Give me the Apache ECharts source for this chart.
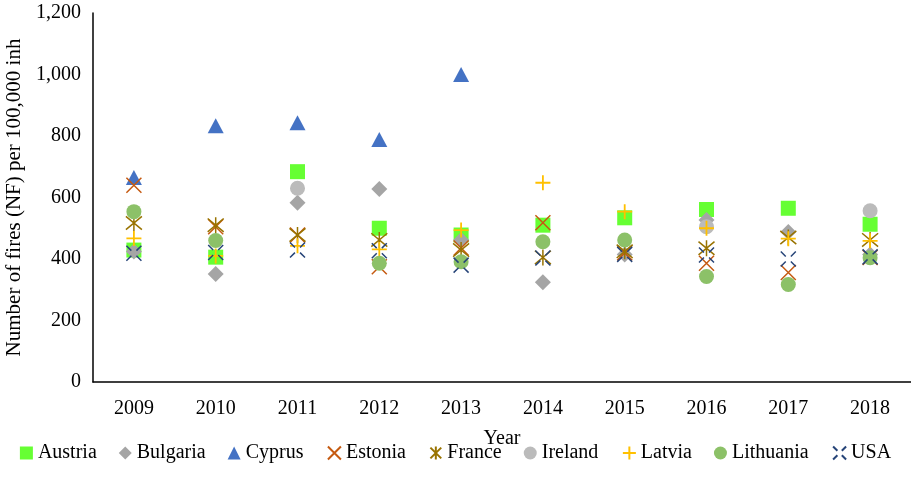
<!DOCTYPE html>
<html>
<head>
<meta charset="utf-8">
<script src="https://cdn.jsdelivr.net/npm/echarts@6/dist/echarts.min.js"></script>
<style>
  html, body { margin: 0; padding: 0; background: #fff; }
  #chart { width: 911px; height: 495px; }
</style>
</head>
<body>
<div id="chart"></div>
<script>
// years on the x axis
const years = ['2009', '2010', '2011', '2012', '2013', '2014', '2015', '2016', '2017', '2018'];
const yTicks = [0, 200, 400, 600, 800, 1000, 1200];

// number of fires per 100,000 inhabitants
const austria   = [429, 406, 684, 500, 478, 510, 534, 561, 565, 513];
const bulgaria  = [424, 351, 583, 628, 462, 324, 415, 527, 488, 415];
const cyprus    = [665, 833, 843, 789, 1000, null, null, null, null, null];
const estonia   = [640, 505, 478, 375, 436, 518, 420, 386, 356, 405];
const france    = [517, 510, 478, 462, 429, 405, 425, 435, 470, 462];
const ireland   = [null, null, 630, null, null, null, null, 505, null, 557];
const latvia    = [467, 410, 443, 431, 494, 648, 554, 500, 466, 459];
const lithuania = [554, 460, null, 386, 391, 456, 462, 343, 317, 404];
const usa       = [419, 421, 429, 427, 380, 403, 415, 413, 400, 407];

const X_PATH = 'path://M0,0L10,10M10,0L0,10';
const STAR_PATH = 'path://M0,0L10,10M10,0L0,10M5,-1L5,11';
const PLUS_PATH = 'path://M5,0L5,10M0,5L10,5';
const GAP_X_PATH = 'path://M0,0L3.3,3.3M10,0L6.7,3.3M0,10L3.3,6.7M10,10L6.7,6.7';

function filled(name, data, symbol, size, color) {
  return {
    name, type: 'scatter', data, symbol, symbolSize: size,
    itemStyle: { color, opacity: 1 },
  };
}

function stroked(name, data, symbol, size, color, width) {
  return {
    name, type: 'scatter', data, symbol, symbolSize: size,
    itemStyle: { color: 'none', borderColor: color, borderWidth: width, opacity: 1 },
  };
}

const chart = echarts.init(document.getElementById('chart'), null, { renderer: 'canvas' });

const font = 'Liberation Serif';

chart.setOption({
  animation: false,
  textStyle: { fontFamily: font, color: '#000' },
  grid: { left: 93, right: 0, top: 13, bottom: 113, outerBoundsMode: 'none', containLabel: false },
  xAxis: {
    type: 'category',
    data: years,
    name: 'Year',
    nameLocation: 'middle',
    nameGap: 47,
    nameTextStyle: { fontSize: 20, color: '#000', fontFamily: font },
    axisLine: { lineStyle: { color: '#000', width: 1.5 } },
    axisTick: { show: false },
    axisLabel: { fontSize: 20, color: '#000', margin: 17, fontFamily: font },
  },
  yAxis: {
    type: 'value',
    min: yTicks[0],
    max: yTicks[yTicks.length - 1],
    interval: 200,
    name: 'Number of fires (NF) per 100,000 inh',
    nameLocation: 'middle',
    nameGap: 67,
    nameTextStyle: { fontSize: 21, color: '#000', fontFamily: font },
    axisLine: { show: true, lineStyle: { color: '#000', width: 1.5 } },
    axisTick: { show: false },
    splitLine: { show: false },
    axisLabel: {
      fontSize: 20, color: '#000', margin: 12, fontFamily: font,
      formatter: (v) => v.toLocaleString('en-US'),
    },
  },
  legend: {
    top: 443,
    left: 'center',
    width: 905,
    padding: 0,
    itemGap: 22,
    itemWidth: 13,
    itemHeight: 13,
    textStyle: { fontSize: 20, color: '#000', fontFamily: font },
  },
  series: [
    filled('Austria', austria, 'rect', 15, '#66FF33'),
    filled('Bulgaria', bulgaria, 'diamond', 16, '#A5A5A5'),
    filled('Cyprus', cyprus, 'triangle', [16, 15], '#4472C4'),
    stroked('Estonia', estonia, X_PATH, 15, '#C55A11', 1.5),
    stroked('France', france, STAR_PATH, 16, '#997300', 1.5),
    filled('Ireland', ireland, 'circle', 15, '#BBBBBB'),
    stroked('Latvia', latvia, PLUS_PATH, 15, '#FFC000', 1.8),
    filled('Lithuania', lithuania, 'circle', 15, '#8CC168'),
    stroked('USA', usa, GAP_X_PATH, 15, '#264478', 1.5),
  ],
});
</script>
</body>
</html>
